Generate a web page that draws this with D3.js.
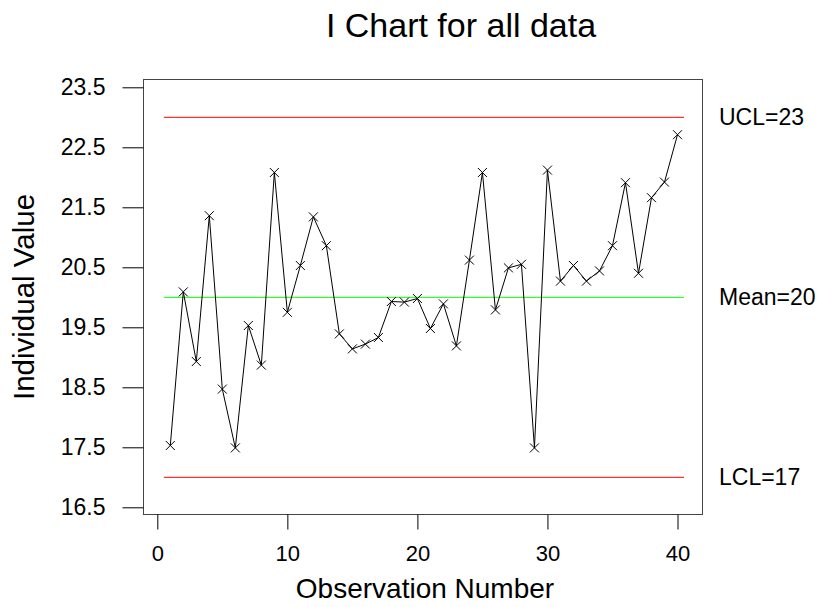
<!DOCTYPE html>
<html>
<head>
<meta charset="utf-8">
<script src="https://cdn.jsdelivr.net/npm/d3@7"></script>
<style>
  html, body { margin: 0; padding: 0; background: #fff; }
  svg { display: block; font-family: Arial, "Liberation Sans", Helvetica, sans-serif; }
</style>
</head>
<body>
<svg id="chart" width="821" height="607"></svg>
<script>
(function () {
  const observations = d3.range(1, 41);
  const values = [
    17.53, 20.09, 18.93, 21.36, 18.47, 17.49, 19.53, 18.87, 22.08, 19.75,
    20.53, 21.34, 20.86, 19.39, 19.14, 19.22, 19.33, 19.93, 19.92, 19.98,
    19.48, 19.89, 19.19, 20.62, 22.08, 19.79, 20.49, 20.55, 17.49, 22.12,
    20.27, 20.53, 20.27, 20.44, 20.86, 21.91, 20.40, 21.66, 21.92, 22.71
  ];
  const controlLimits = [
    { name: 'UCL', value: 23, color: '#ff0000' },
    { name: 'Mean', value: 20, color: '#00ff00' },
    { name: 'LCL', value: 17, color: '#ff0000' }
  ];
  const yTicks = [16.5, 17.5, 18.5, 19.5, 20.5, 21.5, 22.5, 23.5];
  const xTicks = [0, 10, 20, 30, 40];

  const svg = d3.select('#chart');
  const frame = { left: 143.5, right: 702.5, top: 79.5, bottom: 514.5 };

  const x = d3.scaleLinear().domain([0, 40]).range([157.3, 677.5]);
  const y = d3.scaleLinear().domain([16.5, 23.5]).range([507.3, 87.3]);

  // title
  svg.append('text')
    .attr('x', 461)
    .attr('y', 37)
    .attr('text-anchor', 'middle')
    .attr('font-size', 34)
    .text('I Chart for all data');

  // plot frame
  svg.append('rect')
    .attr('x', frame.left)
    .attr('y', frame.top)
    .attr('width', frame.right - frame.left)
    .attr('height', frame.bottom - frame.top)
    .attr('fill', 'none')
    .attr('stroke', '#444')
    .attr('stroke-width', 1);

  // y axis (ticks outside the frame)
  const yAxis = d3.axisLeft(y)
    .tickValues(yTicks)
    .tickFormat(d3.format('.1f'))
    .tickSize(21)
    .tickPadding(17);
  const yAxisG = svg.append('g')
    .attr('transform', `translate(${frame.left},0)`)
    .call(yAxis);
  yAxisG.select('.domain').remove();
  yAxisG.selectAll('.tick line').attr('stroke', '#000');
  yAxisG.selectAll('.tick text')
    .attr('font-size', 23)
    .attr('font-family', null)
    .attr('fill', '#000');

  // x axis
  const xAxis = d3.axisBottom(x)
    .tickValues(xTicks)
    .tickFormat(d3.format('d'))
    .tickSize(15)
    .tickPadding(16);
  const xAxisG = svg.append('g')
    .attr('transform', `translate(0,${frame.bottom})`)
    .call(xAxis);
  xAxisG.select('.domain').remove();
  xAxisG.selectAll('.tick line').attr('stroke', '#000');
  xAxisG.selectAll('.tick text')
    .attr('font-size', 22)
    .attr('font-family', null)
    .attr('fill', '#000');

  // axis titles
  svg.append('text')
    .attr('x', 425)
    .attr('y', 598)
    .attr('text-anchor', 'middle')
    .attr('font-size', 28)
    .text('Observation Number');

  svg.append('text')
    .attr('transform', 'translate(34,297) rotate(-90)')
    .attr('text-anchor', 'middle')
    .attr('font-size', 29.5)
    .text('Individual Value');

  // control limit lines + labels
  svg.append('g')
    .selectAll('line')
    .data(controlLimits)
    .join('line')
    .attr('x1', x(0.5))
    .attr('x2', x(40.5))
    .attr('y1', (d) => y(d.value))
    .attr('y2', (d) => y(d.value))
    .attr('stroke', (d) => d.color)
    .attr('stroke-width', 1);

  svg.append('g')
    .selectAll('text')
    .data(controlLimits)
    .join('text')
    .attr('x', 719)
    .attr('y', (d) => y(d.value) + 8)
    .attr('font-size', 23)
    .text((d) => `${d.name}=${d.value}`);

  // data line
  const points = observations.map((obs, i) => ({ obs, value: values[i] }));
  const line = d3.line()
    .x((d) => x(d.obs))
    .y((d) => y(d.value));

  svg.append('path')
    .datum(points)
    .attr('d', line)
    .attr('fill', 'none')
    .attr('stroke', '#000')
    .attr('stroke-width', 1);

  // x markers
  const s = 4.5;
  svg.append('g')
    .selectAll('path')
    .data(points)
    .join('path')
    .attr('d', (d) => {
      const cx = x(d.obs);
      const cy = y(d.value);
      return `M${cx - s},${cy - s}L${cx + s},${cy + s}M${cx - s},${cy + s}L${cx + s},${cy - s}`;
    })
    .attr('stroke', '#000')
    .attr('stroke-width', 1)
    .attr('fill', 'none');
})();
</script>
</body>
</html>
